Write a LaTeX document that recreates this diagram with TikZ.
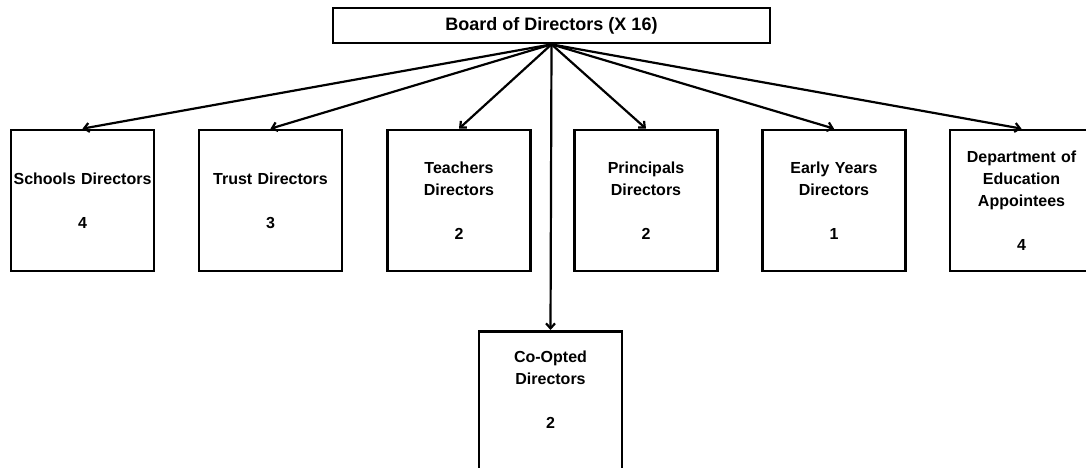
\documentclass[tikz,border=0pt]{standalone}
\usepackage{fontspec}
\setmainfont{Liberation Sans}
\usetikzlibrary{arrows.meta}
\usetikzlibrary{positioning}

\tikzset{
  unitbox/.style={draw, line width=2.7pt, minimum width=143pt, minimum height=141pt, inner sep=0pt, text width=141pt, align=center, font=\fontsize{16}{22}\selectfont\bfseries},
  boardbox/.style={draw, line width=2.7pt, minimum width=437pt, minimum height=35pt, inner sep=0pt, font=\fontsize{18}{22}\selectfont\bfseries},
  feed/.style={line width=2.2pt, -{Straight Barb[length=5pt,width=9pt]}}
}

\begin{document}
\begin{tikzpicture}[x=1pt, y=-1pt]
      \useasboundingbox (0, 0) rectangle (1086, 468);
      \clip (0, 0) rectangle (1086, 468);

      \node [boardbox] (board) at (551.5, 25.5) {Board of Directors (X 16)};

      \node [unitbox] (schools) at (82.5, 200.5) {Schools Directors\\[22pt]4};
      \node [unitbox] (trust) at (270.5, 200.5) {Trust Directors\\[22pt]3};
      \node [unitbox] (teachers) at (459, 200.5) {Teachers\\Directors\\[22pt]2};
      \node [unitbox] (principals) at (646, 200.5) {Principals\\Directors\\[22pt]2};
      \node [unitbox] (early) at (834, 200.5) {Early Years\\Directors\\[22pt]1};
      \node [unitbox] (dept) at (1021.5, 200.5) {Department of\\Education\\Appointees\\[22pt]4};
      \node [unitbox, anchor=north, text depth=90pt] (coopted) at (550.5, 330) {Co-Opted\\Directors\\[22pt]2};

      \draw [feed] (board.south) -- (schools.north);
      \draw [feed] (board.south) -- (trust.north);
      \draw [feed] (board.south) -- (teachers.north);
      \draw [feed] (board.south) -- (principals.north);
      \draw [feed] (board.south) -- (early.north);
      \draw [feed] (board.south) -- (dept.north);
      \draw [feed] (board.south) -- (coopted.north);
    \end{tikzpicture}
\end{document}
